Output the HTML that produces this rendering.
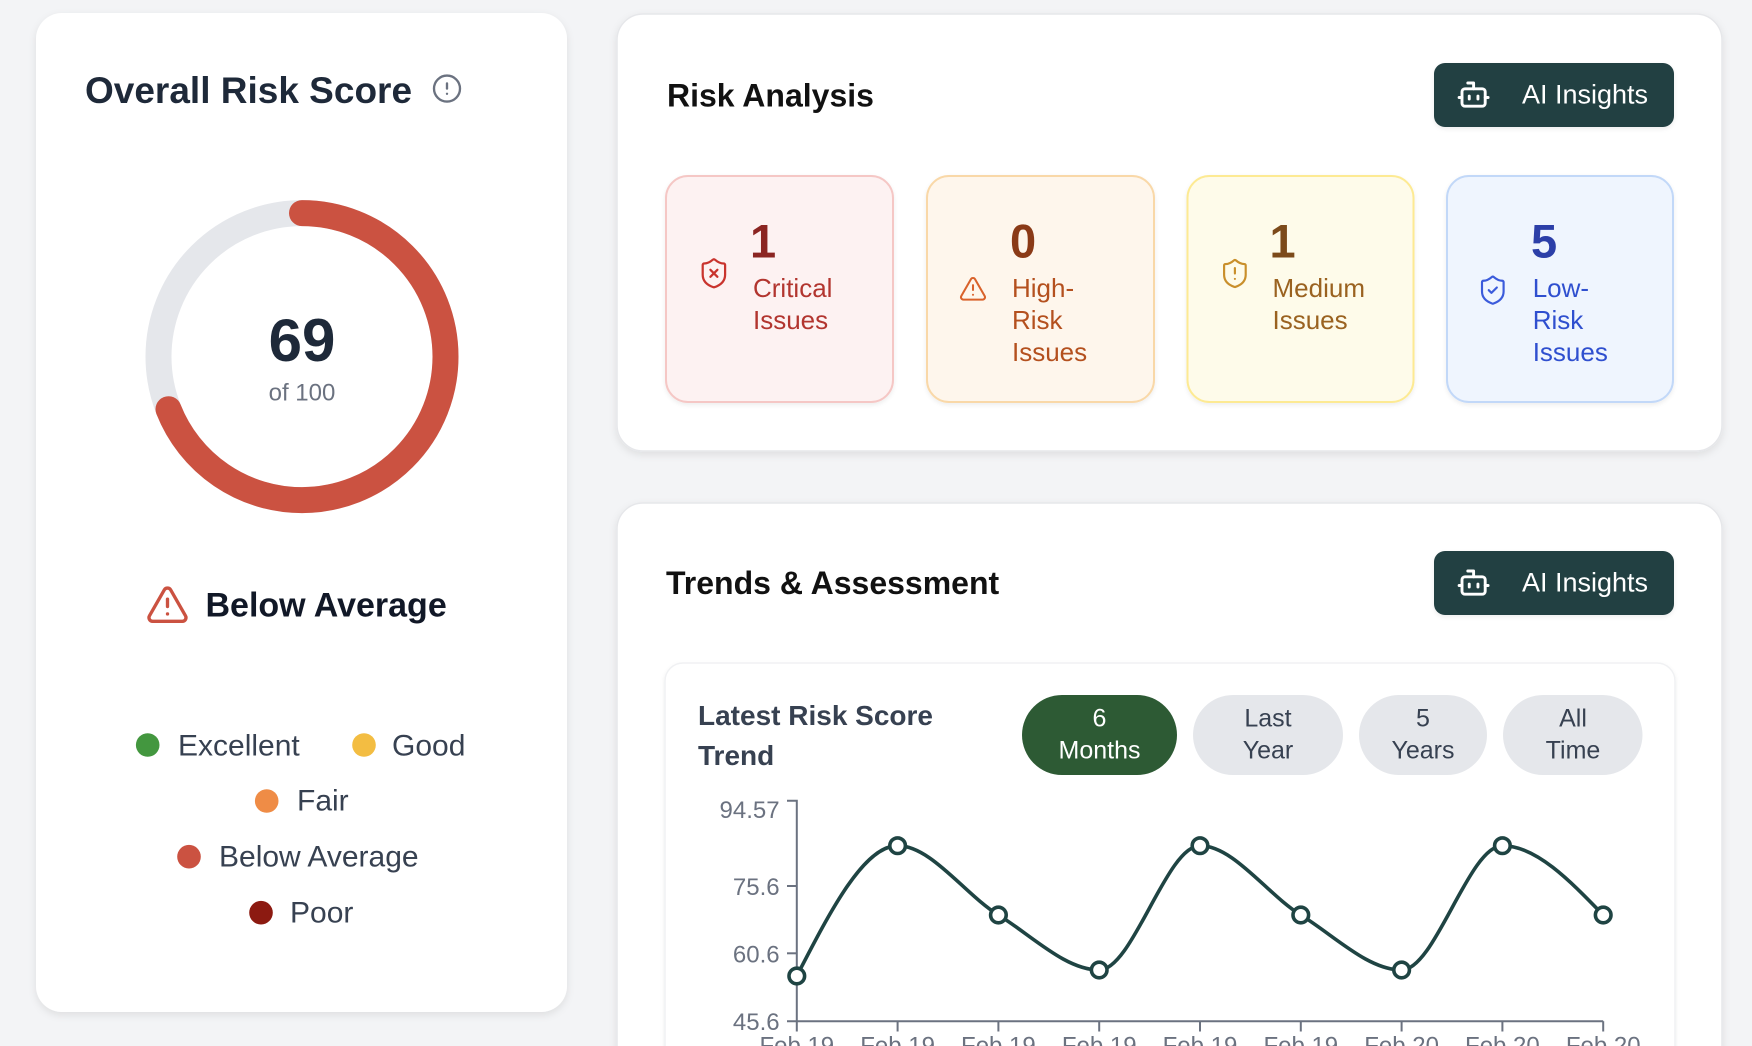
<!DOCTYPE html>
<html>
<head>
<meta charset="utf-8">
<style>
  html,body{margin:0;padding:0;background:#f3f4f6;}
  body{width:1752px;height:1046px;overflow:hidden;}
  svg{display:block;}
  text{font-family:"Liberation Sans", Arial, sans-serif;}
</style>
</head>
<body>
<svg width="1752" height="1046" viewBox="0 0 1752 1046" xmlns="http://www.w3.org/2000/svg">
  <defs>
    <filter id="sh" x="-10%" y="-10%" width="120%" height="125%">
      <feDropShadow dx="0" dy="3" stdDeviation="4" flood-color="#000" flood-opacity="0.09"/>
    </filter>
    <filter id="sh2" x="-10%" y="-10%" width="120%" height="125%">
      <feDropShadow dx="0" dy="2" stdDeviation="2" flood-color="#000" flood-opacity="0.07"/>
    </filter>
    <path id="shield" d="M20 13c0 5-3.5 7.5-7.66 8.95a1 1 0 0 1-.67-.01C7.5 20.5 4 18 4 13V6a1 1 0 0 1 1-1c2 0 4.5-1.2 6.24-2.72a1.17 1.17 0 0 1 1.52 0C14.51 3.81 17 5 19 5a1 1 0 0 1 1 1z"/>
  </defs>

  <rect x="0" y="0" width="1752" height="1046" fill="#f3f4f6"/>

  <!-- ========== LEFT CARD ========== -->
  <rect x="36" y="13" width="531" height="999" rx="26" fill="#ffffff" filter="url(#sh)"/>
  <text x="85" y="103" font-size="37" font-weight="bold" fill="#1e2939">Overall Risk Score</text>
  <!-- info icon -->
  <g transform="translate(431.4,73) scale(1.3)" fill="none" stroke="#6b7280" stroke-width="1.8" stroke-linecap="round" stroke-linejoin="round">
    <circle cx="12" cy="12" r="10"/>
    <path d="M12 8v4"/>
    <path d="M12 16h.01"/>
  </g>

  <!-- donut -->
  <circle cx="302" cy="356.6" r="143.5" fill="none" stroke="#e5e7eb" stroke-width="26"/>
  <circle cx="302" cy="356.6" r="143.5" fill="none" stroke="#cb5241" stroke-width="26"
          stroke-linecap="round" stroke-dasharray="622.1 901.6"
          transform="rotate(-90 302 356.6)"/>
  <text x="302" y="361" text-anchor="middle" font-size="60" font-weight="bold" fill="#1e2939">69</text>
  <text x="302" y="400.5" text-anchor="middle" font-size="24" fill="#6b7280">of 100</text>

  <!-- status -->
  <g transform="translate(145.3,582.5) scale(1.85)" fill="none" stroke="#cb5241" stroke-width="1.8" stroke-linecap="round" stroke-linejoin="round">
    <path d="m21.73 18-8-14a2 2 0 0 0-3.48 0l-8 14A2 2 0 0 0 4 21h16a2 2 0 0 0 1.73-3"/>
    <path d="M12 9v4"/>
    <path d="M12 17h.01"/>
  </g>
  <text x="205.5" y="616.7" font-size="34" font-weight="bold" fill="#111827">Below Average</text>

  <!-- legend -->
  <circle cx="147.7" cy="745" r="11.8" fill="#43973f"/>
  <text x="178" y="755.7" font-size="30" fill="#374151">Excellent</text>
  <circle cx="364" cy="745" r="11.8" fill="#f3bd42"/>
  <text x="392" y="755.7" font-size="30" fill="#374151">Good</text>
  <circle cx="266.7" cy="801" r="11.8" fill="#ef8c46"/>
  <text x="297" y="810.7" font-size="30" fill="#374151">Fair</text>
  <circle cx="189" cy="856.7" r="11.8" fill="#cb5241"/>
  <text x="219" y="866.7" font-size="30" fill="#374151">Below Average</text>
  <circle cx="261" cy="912.7" r="11.8" fill="#8c1a11"/>
  <text x="290" y="922.3" font-size="30" fill="#374151">Poor</text>

  <!-- ========== RISK ANALYSIS CARD ========== -->
  <rect x="617" y="14" width="1105" height="437" rx="26" fill="#ffffff" stroke="#e6e7ea" stroke-width="1.5" filter="url(#sh)"/>
  <text x="667" y="106.7" font-size="32" font-weight="bold" fill="#111111">Risk Analysis</text>

  <rect x="1434" y="63" width="240" height="64" rx="11" fill="#213f42" filter="url(#sh2)"/>
  <g transform="translate(1456.2,77.2) scale(1.45)" fill="none" stroke="#ffffff" stroke-width="2" stroke-linecap="round" stroke-linejoin="round">
    <path d="M12 8V4H8"/>
    <rect width="16" height="12" x="4" y="8" rx="2"/>
    <path d="M2 14h2"/><path d="M20 14h2"/><path d="M15 13v2"/><path d="M9 13v2"/>
  </g>
  <text x="1522" y="103.3" font-size="27" fill="#ffffff">AI Insights</text>

  <!-- Critical -->
  <rect x="666" y="176" width="227" height="226" rx="22" fill="#fdf2f2" stroke="#f5c7c5" stroke-width="2" filter="url(#sh2)"/>
  <g transform="translate(697.1,256.5) scale(1.4)" fill="none" stroke="#c9342e" stroke-width="1.6" stroke-linecap="round" stroke-linejoin="round">
    <use href="#shield"/>
    <path d="m14.5 9.5-5 5"/><path d="m9.5 9.5 5 5"/>
  </g>
  <text x="750" y="257.5" font-size="47" font-weight="bold" fill="#8b2522">1</text>
  <text x="753" y="297" font-size="26" fill="#b2352f">Critical</text>
  <text x="753" y="329" font-size="26" fill="#b2352f">Issues</text>

  <!-- High -->
  <rect x="927" y="176" width="227" height="226" rx="22" fill="#fef6ec" stroke="#f9d8a8" stroke-width="2" filter="url(#sh2)"/>
  <g transform="translate(958.6,274.4) scale(1.2)" fill="none" stroke="#d9622b" stroke-width="1.7" stroke-linecap="round" stroke-linejoin="round">
    <path d="m21.73 18-8-14a2 2 0 0 0-3.48 0l-8 14A2 2 0 0 0 4 21h16a2 2 0 0 0 1.73-3"/>
    <path d="M12 9v4"/><path d="M12 17h.01"/>
  </g>
  <text x="1010" y="257.5" font-size="47" font-weight="bold" fill="#8a3a17">0</text>
  <text x="1012" y="297" font-size="26" fill="#b4501e">High-</text>
  <text x="1012" y="329" font-size="26" fill="#b4501e">Risk</text>
  <text x="1012" y="361" font-size="26" fill="#b4501e">Issues</text>

  <!-- Medium -->
  <rect x="1187.5" y="176" width="226" height="226" rx="22" fill="#fefbea" stroke="#fdea93" stroke-width="2" filter="url(#sh2)"/>
  <g transform="translate(1218.7,257.3) scale(1.35)" fill="none" stroke="#c98f2b" stroke-width="1.6" stroke-linecap="round" stroke-linejoin="round">
    <use href="#shield"/>
    <path d="M12 8v4"/><path d="M12 16h.01"/>
  </g>
  <text x="1269.5" y="257.5" font-size="47" font-weight="bold" fill="#7c4a1a">1</text>
  <text x="1272.5" y="297" font-size="26" fill="#9a6220">Medium</text>
  <text x="1272.5" y="329" font-size="26" fill="#9a6220">Issues</text>

  <!-- Low -->
  <rect x="1447" y="176" width="226" height="226" rx="22" fill="#eff5fe" stroke="#c2d8f8" stroke-width="2" filter="url(#sh2)"/>
  <g transform="translate(1476.6,274) scale(1.35)" fill="none" stroke="#3b5bdb" stroke-width="1.6" stroke-linecap="round" stroke-linejoin="round">
    <use href="#shield"/>
    <path d="m9 12 2 2 4-4"/>
  </g>
  <text x="1531" y="257.5" font-size="47" font-weight="bold" fill="#2c3fa8">5</text>
  <text x="1532.7" y="297" font-size="26" fill="#2f4fcf">Low-</text>
  <text x="1532.7" y="329" font-size="26" fill="#2f4fcf">Risk</text>
  <text x="1532.7" y="361" font-size="26" fill="#2f4fcf">Issues</text>

  <!-- ========== TRENDS CARD ========== -->
  <rect x="617" y="503" width="1105" height="620" rx="26" fill="#ffffff" stroke="#e6e7ea" stroke-width="1.5" filter="url(#sh)"/>
  <text x="666" y="594" font-size="32" font-weight="bold" fill="#111111">Trends &amp; Assessment</text>

  <rect x="1434" y="551" width="240" height="64" rx="11" fill="#213f42" filter="url(#sh2)"/>
  <g transform="translate(1456.2,565.2) scale(1.45)" fill="none" stroke="#ffffff" stroke-width="2" stroke-linecap="round" stroke-linejoin="round">
    <path d="M12 8V4H8"/>
    <rect width="16" height="12" x="4" y="8" rx="2"/>
    <path d="M2 14h2"/><path d="M20 14h2"/><path d="M15 13v2"/><path d="M9 13v2"/>
  </g>
  <text x="1522" y="591.3" font-size="27" fill="#ffffff">AI Insights</text>

  <!-- inner chart card -->
  <rect x="665" y="663" width="1010" height="500" rx="18" fill="#ffffff" stroke="#f0f1f3" stroke-width="1.5" filter="url(#sh2)"/>
  <text x="698" y="725" font-size="28" font-weight="bold" fill="#374151">Latest Risk Score</text>
  <text x="698" y="765" font-size="28" font-weight="bold" fill="#374151">Trend</text>

  <!-- pills -->
  <rect x="1022" y="695" width="155" height="80" rx="40" fill="#2d5a34"/>
  <text x="1099.5" y="726.7" text-anchor="middle" font-size="25" fill="#ffffff">6</text>
  <text x="1099.5" y="758.3" text-anchor="middle" font-size="25" fill="#ffffff">Months</text>

  <rect x="1193" y="695" width="150" height="80" rx="40" fill="#e5e7eb"/>
  <text x="1268" y="726.7" text-anchor="middle" font-size="25" fill="#374151">Last</text>
  <text x="1268" y="758.3" text-anchor="middle" font-size="25" fill="#374151">Year</text>

  <rect x="1359" y="695" width="128" height="80" rx="40" fill="#e5e7eb"/>
  <text x="1423" y="726.7" text-anchor="middle" font-size="25" fill="#374151">5</text>
  <text x="1423" y="758.3" text-anchor="middle" font-size="25" fill="#374151">Years</text>

  <rect x="1503" y="695" width="139.5" height="80" rx="40" fill="#e5e7eb"/>
  <text x="1573" y="726.7" text-anchor="middle" font-size="25" fill="#374151">All</text>
  <text x="1573" y="758.3" text-anchor="middle" font-size="25" fill="#374151">Time</text>

  <!-- axes -->
  <g stroke="#6b7280" stroke-width="2" fill="none">
    <path d="M787 800.7H796.8V1021.2"/>
    <path d="M787 886H796.8"/>
    <path d="M787 953.3H796.8"/>
    <path d="M787 1021.2H1603.2"/>
    <path d="M796.8 1021.2V1031.5"/>
    <path d="M897.6 1021.2V1031.5"/>
    <path d="M998.4 1021.2V1031.5"/>
    <path d="M1099.2 1021.2V1031.5"/>
    <path d="M1200 1021.2V1031.5"/>
    <path d="M1300.8 1021.2V1031.5"/>
    <path d="M1401.6 1021.2V1031.5"/>
    <path d="M1502.4 1021.2V1031.5"/>
    <path d="M1603.2 1021.2V1031.5"/>
  </g>
  <g font-size="24" fill="#6b7280" text-anchor="end">
    <text x="779.6" y="818">94.57</text>
    <text x="779.6" y="895">75.6</text>
    <text x="779.6" y="962.3">60.6</text>
    <text x="779.6" y="1030">45.6</text>
  </g>
  <g font-size="24" fill="#6b7280" text-anchor="middle">
    <text x="796.8" y="1053.5">Feb 19</text>
    <text x="897.6" y="1053.5">Feb 19</text>
    <text x="998.4" y="1053.5">Feb 19</text>
    <text x="1099.2" y="1053.5">Feb 19</text>
    <text x="1200" y="1053.5">Feb 19</text>
    <text x="1300.8" y="1053.5">Feb 19</text>
    <text x="1401.6" y="1053.5">Feb 20</text>
    <text x="1502.4" y="1053.5">Feb 20</text>
    <text x="1603.2" y="1053.5">Feb 20</text>
  </g>

  <!-- line -->
  <path fill="none" stroke="#1f4443" stroke-width="3.6" stroke-linejoin="round" stroke-linecap="round"
    d="M796.8 976
       C830.4 910.85 863.9 845.7 897.6 845.7
       C931.2 845.7 964.8 894.28 998.4 915
       C1032 935.72 1065.6 970 1099.2 970
       C1132.8 970 1166.4 845.7 1200 845.7
       C1233.6 845.7 1267.2 894.28 1300.8 915
       C1334.4 935.72 1368 970 1401.6 970
       C1435.2 970 1468.8 845.7 1502.4 845.7
       C1536 845.7 1569.6 880.35 1603.2 915"/>
  <g fill="#ffffff" stroke="#1f4443" stroke-width="3.6">
    <circle cx="796.8" cy="976" r="7.8"/>
    <circle cx="897.6" cy="845.7" r="7.8"/>
    <circle cx="998.4" cy="915" r="7.8"/>
    <circle cx="1099.2" cy="970" r="7.8"/>
    <circle cx="1200" cy="845.7" r="7.8"/>
    <circle cx="1300.8" cy="915" r="7.8"/>
    <circle cx="1401.6" cy="970" r="7.8"/>
    <circle cx="1502.4" cy="845.7" r="7.8"/>
    <circle cx="1603.2" cy="915" r="7.8"/>
  </g>
</svg>
</body>
</html>
